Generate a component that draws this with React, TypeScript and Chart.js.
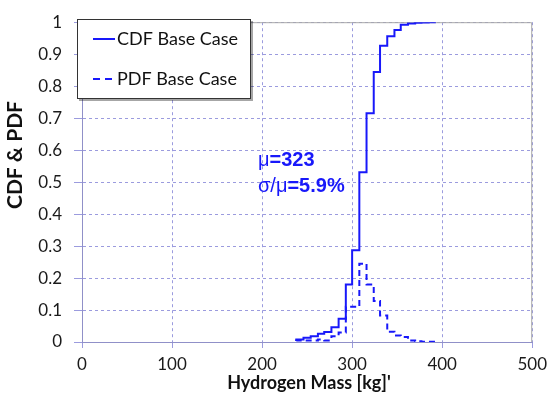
import React, { useEffect, useRef } from 'react';
import { Chart, registerables } from 'chart.js';

Chart.register(...registerables);

const massBins = [238, 246, 254, 262, 269, 277, 285, 293, 300, 308, 316, 324, 331, 339, 347, 354, 362, 370, 377, 385, 393];
const cdfBaseCase = [0.003, 0.008, 0.013, 0.018, 0.026, 0.031, 0.046, 0.073, 0.18, 0.287, 0.531, 0.715, 0.844, 0.926, 0.956, 0.976, 0.992, 0.996, 0.998, 0.999, 1.0];
const pdfBaseCase = [0.003, 0.005, 0.005, 0.005, 0.008, 0.005, 0.018, 0.03, 0.11, 0.11, 0.245, 0.18, 0.128, 0.083, 0.032, 0.02, 0.016, 0.005, 0.002, 0.001, 0.001];
const xTickLabels = ['0', '100', '200', '300', '400', '500'];
const yTickLabels = ['0', '0.1', '0.2', '0.3', '0.4', '0.5', '0.6', '0.7', '0.8', '0.9', '1'];
const seriesNames = ['CDF Base Case', 'PDF Base Case'];
const statLines = [['μ', '=323'], ['σ/μ', '=5.9%']];
const xTitle = "Hydrogen Mass [kg]'";
const yTitle = 'CDF & PDF';

const BLUE = 'rgb(24,24,250)';
const GRID = 'rgb(155,155,222)';

const overlay = {
  id: 'overlay',
  beforeDatasetsDraw(chart: any) {
    const { ctx, chartArea: a } = chart;
    ctx.save();
    ctx.strokeStyle = '#a8a8a8';
    ctx.lineWidth = 1;
    ctx.beginPath();
    ctx.moveTo(a.left, a.top + 0.5);
    ctx.lineTo(a.right - 0.5, a.top + 0.5);
    ctx.lineTo(a.right - 0.5, a.bottom);
    ctx.stroke();
    ctx.restore();
  },
  afterDraw(chart: any) {
    const { ctx } = chart;
    ctx.save();
    // axis titles
    ctx.fillStyle = '#111';
    ctx.font = 'bold 18px Lato';
    ctx.textAlign = 'center';
    ctx.textBaseline = 'alphabetic';
    ctx.fillText(xTitle, 309, 389);
    ctx.save();
    ctx.translate(22, 155);
    ctx.rotate(-Math.PI / 2);
    ctx.font = 'bold 21px Lato';
    ctx.fillText(yTitle, 0, 0);
    ctx.restore();

    // legend box
    const lx = 77, ly = 19, lw = 174, lh = 80;
    ctx.fillStyle = 'rgba(0,0,0,0.35)';
    ctx.fillRect(lx + 2, ly + 2, lw, lh);
    ctx.fillStyle = '#fff';
    ctx.fillRect(lx, ly, lw, lh);
    ctx.strokeStyle = '#333';
    ctx.lineWidth = 1;
    ctx.strokeRect(lx + 0.5, ly + 0.5, lw - 1, lh - 1);
    const rows = [39, 79];
    rows.forEach((ry, i) => {
      ctx.strokeStyle = BLUE;
      ctx.lineWidth = 2;
      ctx.setLineDash(i === 0 ? [] : [7, 5]);
      ctx.beginPath();
      ctx.moveTo(93, ry);
      ctx.lineTo(115, ry);
      ctx.stroke();
      ctx.setLineDash([]);
      ctx.fillStyle = '#111';
      ctx.font = '18px Lato';
      ctx.textAlign = 'left';
      ctx.textBaseline = 'middle';
      ctx.fillText(seriesNames[i], 117, ry);
    });

    // stats annotation
    ctx.fillStyle = BLUE;
    ctx.textBaseline = 'alphabetic';
    ctx.textAlign = 'left';
    const baselines = [166, 192];
    statLines.forEach((parts, i) => {
      let x = 258;
      ctx.font = '20px "Liberation Sans"';
      ctx.fillText(parts[0], x, baselines[i]);
      x += ctx.measureText(parts[0]).width;
      ctx.font = 'bold 20px "Liberation Sans"';
      ctx.fillText(parts[1], x, baselines[i]);
    });
    ctx.restore();
  },
};

export default function App() {
  const ref = useRef<HTMLCanvasElement | null>(null);
  useEffect(() => {
    if (!ref.current) return;
    const chart = new Chart(ref.current, {
      type: 'line',
      data: {
        datasets: [
          {
            label: seriesNames[0],
            data: massBins.map((x, i) => ({ x, y: cdfBaseCase[i] })),
            borderColor: BLUE,
            borderWidth: 2,
            stepped: 'after',
            pointRadius: 0,
            fill: false,
          },
          {
            label: seriesNames[1],
            data: massBins.map((x, i) => ({ x, y: pdfBaseCase[i] })),
            borderColor: BLUE,
            borderWidth: 2,
            borderDash: [6, 4],
            stepped: 'after',
            pointRadius: 0,
            fill: false,
          },
        ],
      },
      options: {
        responsive: false,
        animation: false,
        layout: { padding: { top: 15, right: 15, left: 0, bottom: 0 } },
        plugins: { legend: { display: false }, tooltip: { enabled: false } },
        scales: {
          x: {
            type: 'linear',
            min: 0,
            max: 500,
            ticks: {
              stepSize: 100,
              color: '#1a1a1a',
              font: { family: 'Lato', size: 17 },
              padding: 6,
              maxRotation: 0,
              callback: (_v: any, i: number) => xTickLabels[i],
            },
            grid: { color: GRID, lineWidth: 1, tickLength: 6, tickColor: GRID },
            border: { color: '#9090c8', width: 1, dash: [3, 3] },
            afterFit: (s: any) => { s.height = 55; },
          },
          y: {
            min: 0,
            max: 1,
            ticks: {
              stepSize: 0.1,
              color: '#1a1a1a',
              font: { family: 'Lato', size: 17 },
              padding: 12,
              callback: (_v: any, i: number) => yTickLabels[i],
            },
            grid: { color: GRID, lineWidth: 1, tickLength: 8, tickColor: GRID },
            border: { color: '#9090c8', width: 1, dash: [3, 3] },
            afterFit: (s: any) => { s.width = 82; },
          },
        },
      },
      plugins: [overlay],
    } as any);
    return () => chart.destroy();
  }, []);
  return (
    <div style={{ position: 'absolute', left: 0, top: 0, width: 553, height: 397, background: '#fff' }}>
      <canvas ref={ref} width={553} height={397} />
    </div>
  );
}
